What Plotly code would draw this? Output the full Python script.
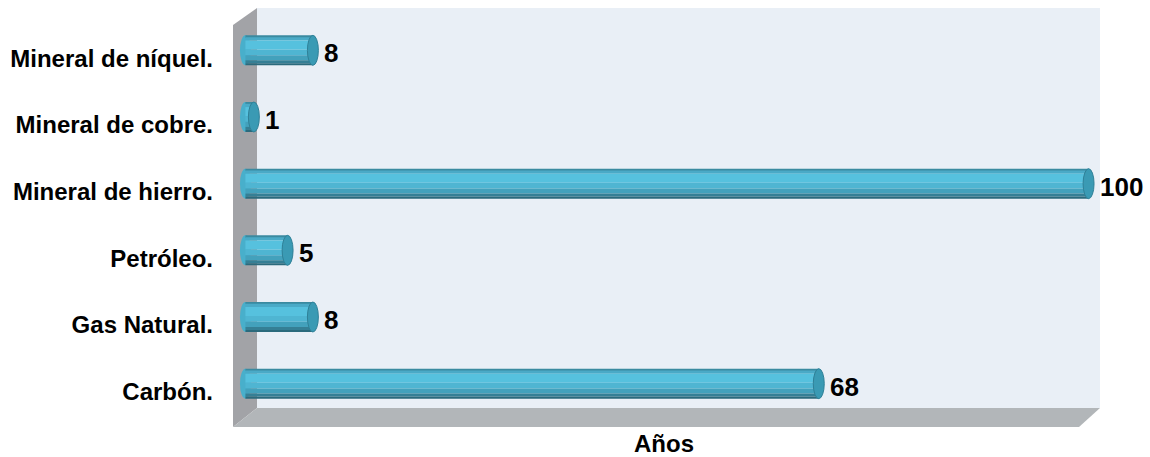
import plotly.graph_objects as go

categories = ["Carbón.", "Gas Natural.", "Petróleo.", "Mineral de hierro.", "Mineral de cobre.", "Mineral de níquel."]
values = [68, 8, 5, 100, 1, 8]
axis_title = "Años"

FONT = "Liberation Sans, Arial, sans-serif"
W, H = 1150, 457
ML, MR, MT, MB = 237, 53, 17, 40
PW, PH = W - ML - MR, H - MT - MB

def px(p):
    return (p - ML) / PW

def py(q):
    return (H - MB - q) / PH

ypos = list(range(len(categories)))
BW = 0.45  # bar thickness in category units
CAP = 0.65  # half width of end ellipse in x units

# cylinder shading bands (top -> bottom), in fractions of thickness
bands = [
    (0.00, 0.06, "#3a8aa0"),
    (0.06, 0.17, "#4aaac7"),
    (0.17, 0.47, "#56c1de"),
    (0.47, 0.66, "#4fb5d2"),
    (0.66, 0.83, "#43a1bc"),
    (0.83, 0.93, "#357f95"),
    (0.93, 1.00, "#2b6a7c"),
]

fig = go.Figure()
for a, b, col in bands:
    fig.add_trace(go.Bar(
        x=values, y=ypos, orientation="h",
        offset=BW / 2 - b * BW, width=(b - a) * BW,
        marker=dict(color=col, line=dict(width=0)),
        hoverinfo="skip", showlegend=False,
    ))

shapes = []
# back wall
shapes.append(dict(type="rect", xref="paper", yref="paper",
                   x0=px(257), x1=px(1100), y0=py(408), y1=py(8),
                   fillcolor="#e9eff6", line=dict(width=0), layer="below"))
# side wall
shapes.append(dict(type="path", xref="paper", yref="paper",
                   path=f"M {px(233)} {py(25)} L {px(257)} {py(8)} L {px(257)} {py(408)} L {px(233)} {py(427)} Z",
                   fillcolor="#a2a3a7", line=dict(width=0), layer="below"))
# floor
shapes.append(dict(type="path", xref="paper", yref="paper",
                   path=f"M {px(233)} {py(427)} L {px(257)} {py(408)} L {px(1100)} {py(408)} L {px(1079)} {py(427)} Z",
                   fillcolor="#b2b6b9", line=dict(width=0), layer="below"))

annotations = []
for v, yp in zip(values, ypos):
    # rounded left end
    shapes.append(dict(type="circle", xref="x", yref="y",
                       x0=-CAP, x1=CAP, y0=yp - BW / 2, y1=yp + BW / 2,
                       fillcolor="#48afcb", line=dict(width=0), layer="below"))
    # right end cap
    shapes.append(dict(type="circle", xref="x", yref="y",
                       x0=v - CAP, x1=v + CAP, y0=yp - BW / 2, y1=yp + BW / 2,
                       fillcolor="#3a9ab4", line=dict(color="#2f8097", width=1), layer="above"))
    annotations.append(dict(x=v, y=yp, xref="x", yref="y", text=f"<b>{v}</b>",
                            showarrow=False, xanchor="left", yanchor="middle",
                            xshift=9, yshift=-3,
                            font=dict(family=FONT, size=26, color="#000000")))

annotations.append(dict(x=px(664), y=py(444), xref="paper", yref="paper",
                        text=f"<b>{axis_title}</b>", showarrow=False,
                        xanchor="center", yanchor="middle",
                        font=dict(family=FONT, size=24, color="#000000")))

fig.update_layout(
    width=W, height=H,
    margin=dict(l=ML, r=MR, t=MT, b=MB, autoexpand=False),
    barmode="overlay",
    paper_bgcolor="#ffffff",
    plot_bgcolor="rgba(0,0,0,0)",
    shapes=shapes,
    annotations=annotations,
    showlegend=False,
    xaxis=dict(range=[-1, 101], showgrid=False, zeroline=False, showline=False,
               showticklabels=False, ticks="", fixedrange=True),
    yaxis=dict(range=[-0.5, 5.5], tickvals=ypos, ticktext=[f"<b>{c}</b>" for c in categories],
               showgrid=False, zeroline=False, showline=False, ticks="",
               ticklabelstandoff=23, ticklabelshift=8,
               tickfont=dict(family=FONT, size=24, color="#000000"), fixedrange=True),
)

fig.write_html(
    "out.html",
    config={"displayModeBar": False},
    post_script="document.body.style.margin='0';document.body.style.overflow='hidden';",
)
